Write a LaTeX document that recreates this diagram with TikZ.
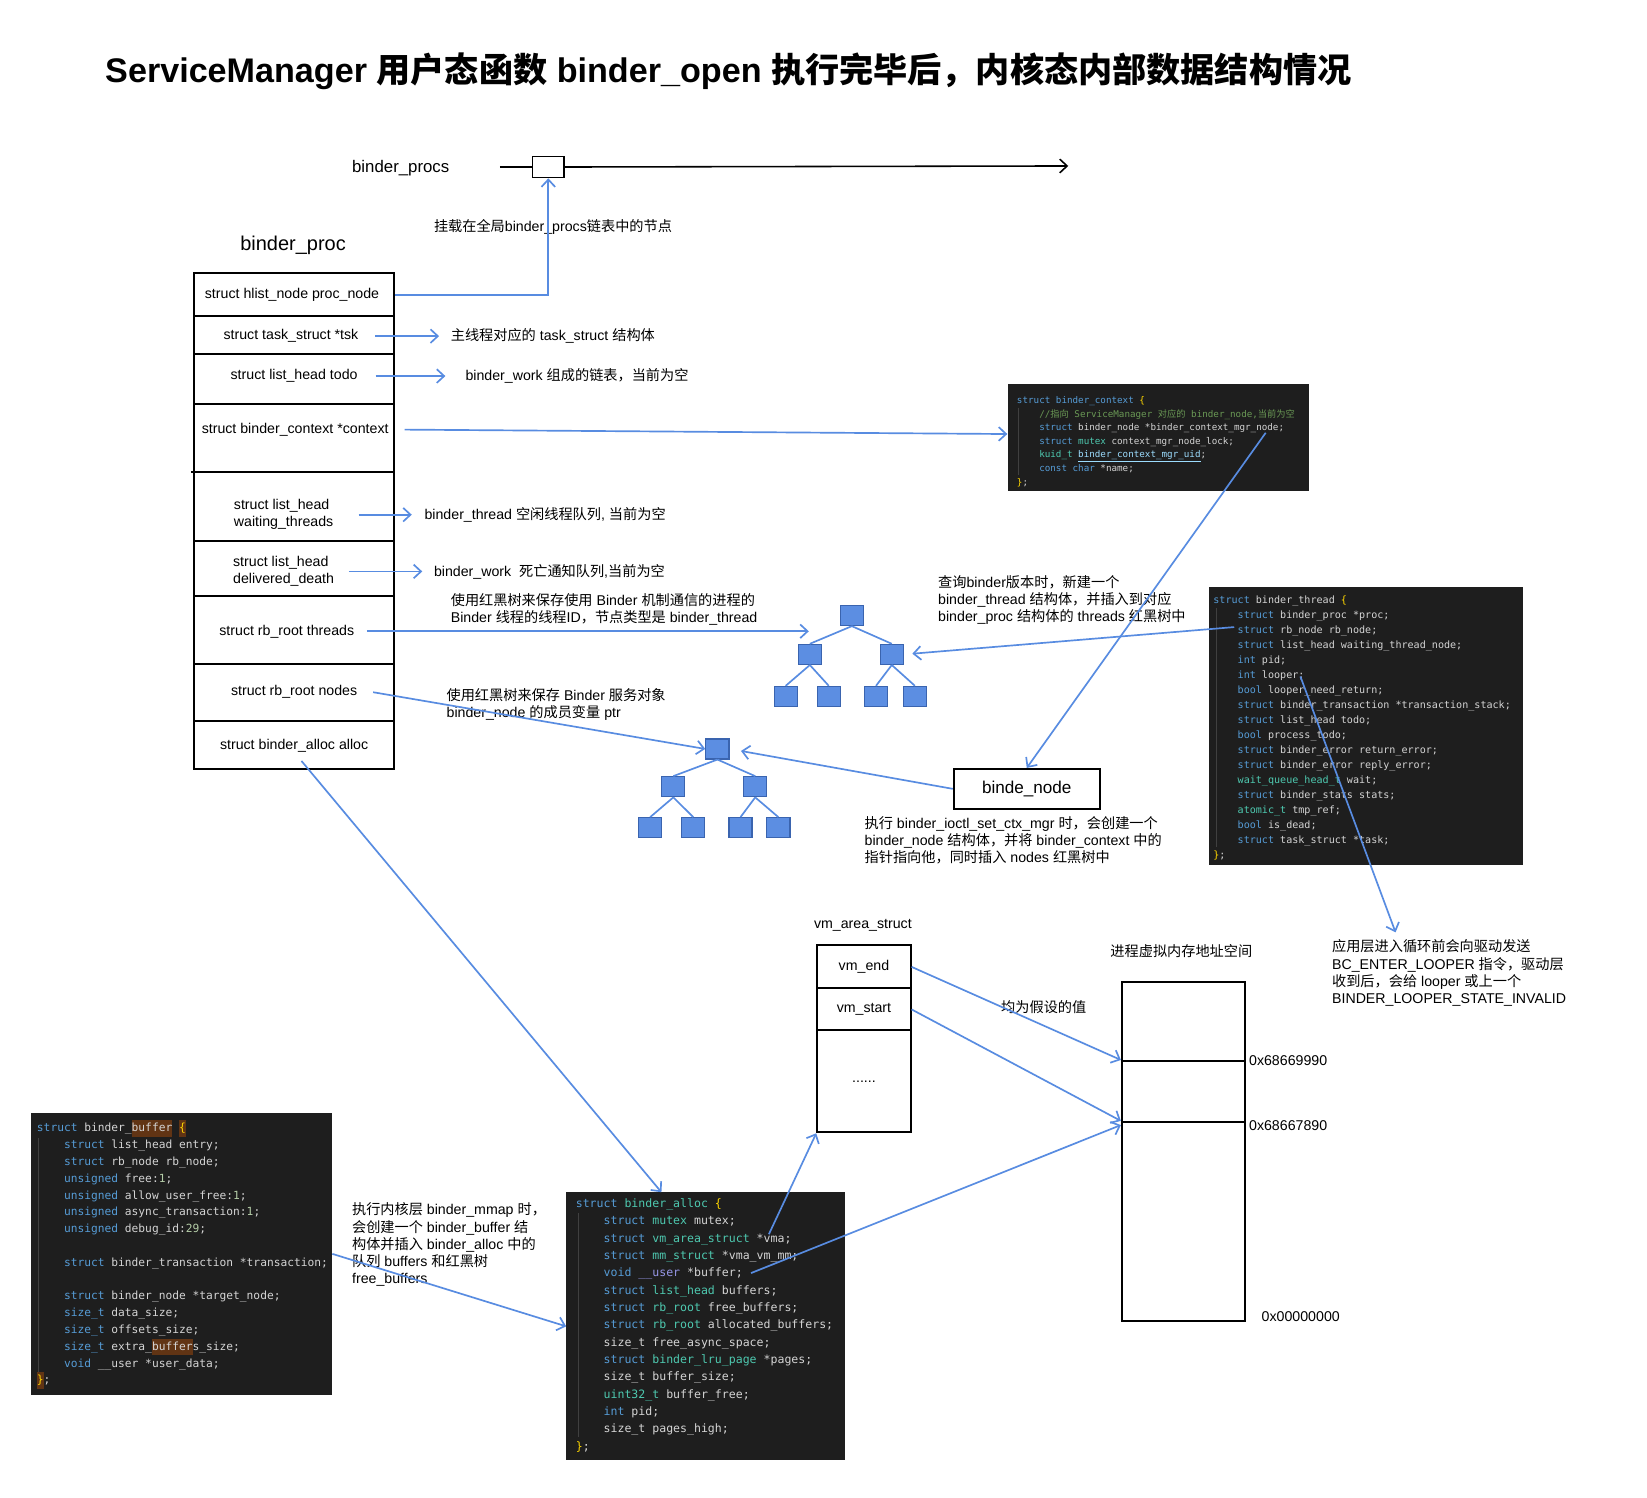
\documentclass[tikz,border=0pt]{standalone}
\usepackage{fontspec}
\setmainfont{Liberation Sans}
\setmonofont{DejaVu Sans Mono}
\newfontfamily\cjkfont{Noto Sans CJK SC}
\usetikzlibrary{arrows.meta}

\definecolor{linkblue}{RGB}{88,140,225}
\definecolor{treefill}{RGB}{92,142,226}
\definecolor{treeedge}{RGB}{58,100,175}
\definecolor{codebg}{RGB}{30,30,30}
\definecolor{codetx}{RGB}{212,212,212}
\definecolor{cdkw}{RGB}{86,156,214}
\definecolor{cdty}{RGB}{78,201,176}
\definecolor{cdbr}{RGB}{255,215,0}
\definecolor{cdcm}{RGB}{106,153,85}
\definecolor{cdnm}{RGB}{181,206,168}
\definecolor{cdvar}{RGB}{156,220,254}
\definecolor{cdhl}{RGB}{97,52,20}
\definecolor{cdpu}{RGB}{150,150,230}
\definecolor{guidegray}{RGB}{64,64,64}

\newcommand\zh[1]{{\cjkfont #1}}
\newcommand\ckw[1]{\textcolor{cdkw}{#1}}
\newcommand\cty[1]{\textcolor{cdty}{#1}}
\newcommand\cbr[1]{\textcolor{cdbr}{#1}}
\newcommand\ccm[1]{\textcolor{cdcm}{#1}}
\newcommand\cnm[1]{\textcolor{cdnm}{#1}}
\newcommand\cind{\phantom{0000}}
\newcommand\chl[1]{{\setlength\fboxsep{0pt}\colorbox{cdhl}{\strut#1}}}

\tikzset{
  lbl/.style={inner sep=0pt, font=\fontsize{13.5}{16.4}\selectfont},
  notetext/.style={lbl, anchor=west, align=left},
  linkarrow/.style={draw=linkblue, line width=1.6pt, -{Straight Barb[length=7pt,width=13pt]}},
  fieldbox/.style={draw, line width=1.8pt, inner sep=0pt, font=\fontsize{13.5}{16.4}\selectfont},
  treenode/.style={draw=treeedge, fill=treefill, line width=1.2pt, minimum width=22pt, minimum height=19pt, inner sep=0pt},
  treeline/.style={draw=linkblue, line width=1.6pt},
  codebox/.style={fill=codebg, anchor=north west, inner sep=0pt},
  % base of a code block = baseline of its last line
  codetext/.style={anchor=base west, align=left, inner sep=0pt, text=codetx},
  guide/.style={draw=guidegray, line width=0.8pt}
}

\begin{document}
\begin{tikzpicture}[x=1pt,y=-1pt]
\useasboundingbox[fill=white] (0,0) rectangle (1568,1425.2);

% Drawing title
\node[anchor=west, inner sep=0pt, font=\bfseries\fontsize{32.5}{38}\selectfont] (title) at (100,68)
  {ServiceManager \zh{用户态函数} binder\_open \zh{执行完毕后，内核态内部数据结构情况}};

% Drawing global list binder_procs
\node[lbl, font=\fontsize{16}{19}\selectfont] (procslbl) at (381.5,160) {binder\_procs};
\node[draw, line width=1.5pt, minimum width=30pt, minimum height=20pt, inner sep=0pt] (procsnode) at (522,159) {};
\coordinate (procsstart) at (476,159);
\coordinate (procsend) at (1017,158);
\draw[line width=1.5pt] (procsstart) -- (procsnode.west);
\draw[line width=1.5pt, -{Straight Barb[length=7pt,width=13pt]}] (procsnode.east) -- (procsend);
\node[notetext] (mountnote) at (413,216) {\zh{挂载在全局}binder\_procs\zh{链表中的节点}};

% Drawing binder_proc
\node[lbl, font=\fontsize{19}{22}\selectfont] (proclbl) at (279,234) {binder\_proc};
\node[draw, line width=1.8pt, minimum width=190pt, minimum height=472pt, inner sep=0pt] (procbox) at (280,496) {};
\foreach \y in {301,337,385,515,567,632,686}
  \draw[line width=1.8pt] (185,\y) -- (375,\y);
\draw[line width=1.8pt] (182,449) -- (375,449);
\node[lbl] (procnode) at (278,281) {struct hlist\_node proc\_node};
\node[lbl] (tsk) at (277,320) {struct task\_struct *tsk};
\node[lbl] (todo) at (280,358) {struct list\_head todo};
\node[lbl] (ctx) at (281,409) {struct binder\_context *context};
\node[lbl, align=left] (waiting) at (270,490) {struct list\_head\\waiting\_threads};
\node[lbl, align=left] (death) at (270,544) {struct list\_head\\delivered\_death};
\node[lbl] (threads) at (273,601) {struct rb\_root threads};
\node[lbl] (nodes) at (280,659) {struct rb\_root nodes};
\node[lbl] (alloc) at (280,710) {struct binder\_alloc alloc};

% Drawing notes of the fields
\node[notetext] (tsknote) at (429,320) {\zh{主线程对应的} task\_struct \zh{结构体}};
\node[notetext] (todonote) at (443,358) {binder\_work \zh{组成的链表，当前为空}};
\node[notetext] (waitnote) at (404,490) {binder\_thread \zh{空闲线程队列}, \zh{当前为空}};
\node[notetext] (deathnote) at (413,544) {binder\_work\ \ \zh{死亡通知队列},\zh{当前为空}};
\node[notetext] (threadsnote) at (429,580) {\zh{使用红黑树来保存使用} Binder \zh{机制通信的进程的}\\Binder \zh{线程的线程}ID\zh{，节点类型是} binder\_thread};
\node[notetext] (nodesnote) at (425,671) {\zh{使用红黑树来保存} Binder \zh{服务对象}\\binder\_node \zh{的成员变量} ptr};
\node[notetext] (newthreadnote) at (893,571) {\zh{查询}binder\zh{版本时，新建一个}\\binder\_thread \zh{结构体，并插入到对应}\\binder\_proc \zh{结构体的} threads \zh{红黑树中}};
\node[notetext] (bnodenote) at (823,800) {\zh{执行} binder\_ioctl\_set\_ctx\_mgr \zh{时，会创建一个}\\binder\_node \zh{结构体，并将} binder\_context \zh{中的}\\\zh{指针指向他，同时插入} nodes \zh{红黑树中}};
\node[notetext] (loopernote) at (1268,926.5) {\zh{应用层进入循环前会向驱动发送}\\BC\_ENTER\_LOOPER \zh{指令，驱动层}\\\zh{收到后，会给} looper \zh{或上一个}\\BINDER\_LOOPER\_STATE\_INVALID};
\node[notetext] (mmapnote) at (335,1185) {\zh{执行内核层} binder\_mmap \zh{时，}\\\zh{会创建一个} binder\_buffer \zh{结}\\\zh{构体并插入} binder\_alloc \zh{中的}\\\zh{队列} buffers \zh{和红黑树}\\free\_buffers};

% Drawing red-black tree of threads
\node[treenode] (t1a) at (811,586) {};
\node[treenode] (t1b) at (771,623) {};
\node[treenode] (t1c) at (849,623) {};
\node[treenode] (t1d) at (748,663) {};
\node[treenode] (t1e) at (789,663) {};
\node[treenode] (t1f) at (834,663) {};
\node[treenode] (t1g) at (871,663) {};
\draw[treeline] (t1a.south) -- (t1b.north);
\draw[treeline] (t1a.south) -- (t1c.north);
\draw[treeline] (t1b.south) -- (t1d.north);
\draw[treeline] (t1b.south) -- (t1e.north);
\draw[treeline] (t1c.south) -- (t1f.north);
\draw[treeline] (t1c.south) -- (t1g.north);
\coordinate (t1entry) at (770,601);

% Drawing red-black tree of nodes
\node[treenode] (t2a) at (683,713) {};
\node[treenode] (t2b) at (641,749) {};
\node[treenode] (t2c) at (719,749) {};
\node[treenode] (t2d) at (619,788) {};
\node[treenode] (t2e) at (660,788) {};
\node[treenode] (t2f) at (705,788) {};
\node[treenode] (t2g) at (741,788) {};
\draw[treeline] (t2a.south) -- (t2b.north);
\draw[treeline] (t2a.south) -- (t2c.north);
\draw[treeline] (t2b.south) -- (t2d.north);
\draw[treeline] (t2b.south) -- (t2e.north);
\draw[treeline] (t2c.south) -- (t2f.north);
\draw[treeline] (t2c.south) -- (t2g.north);

% Drawing binder_node
\node[fieldbox, minimum width=139pt, minimum height=38pt, font=\fontsize{16.3}{19}\selectfont] (bnode) at (977.5,751) {binde\_node};

% Drawing struct binder_context
\node[codebox, minimum width=287pt, minimum height=102pt] (ctxbox) at (959,365) {};
\draw[guide] (970,388) -- (970,452);
\node[codetext, font=\ttfamily\fontsize{8.8}{13}\selectfont] (ctxcode) at (968,462) {%
\ckw{struct} \ckw{binder\_context} \cbr{\{}\\
\cind\ccm{//\zh{指向} ServiceManager \zh{对应的} binder\_node,\zh{当前为空}}\\
\cind\ckw{struct} binder\_node *binder\_context\_mgr\_node;\\
\cind\ckw{struct} \cty{mutex} context\_mgr\_node\_lock;\\
\cind\cty{kuid\_t} \textcolor{cdvar}{\underline{binder\_context\_mgr\_uid}};\\
\cind\ckw{const} \ckw{char} *name;\\
\cbr{\}};};
\coordinate (ctxmgr) at (1205,412);

% Drawing struct binder_thread
\node[codebox, minimum width=299pt, minimum height=264pt] (threadbox) at (1151,559) {};
\draw[guide] (1158,579) -- (1158,806);
\node[codetext, font=\ttfamily\fontsize{9.6}{14.3}\selectfont] (threadcode) at (1155,817.2) {%
\ckw{struct} binder\_thread \cbr{\{}\\
\cind\ckw{struct} binder\_proc *proc;\\
\cind\ckw{struct} rb\_node rb\_node;\\
\cind\ckw{struct} list\_head waiting\_thread\_node;\\
\cind\ckw{int} pid;\\
\cind\ckw{int} looper;\\
\cind\ckw{bool} looper\_need\_return;\\
\cind\ckw{struct} binder\_transaction *transaction\_stack;\\
\cind\ckw{struct} list\_head todo;\\
\cind\ckw{bool} process\_todo;\\
\cind\ckw{struct} binder\_error return\_error;\\
\cind\ckw{struct} binder\_error reply\_error;\\
\cind\cty{wait\_queue\_head\_t} wait;\\
\cind\ckw{struct} binder\_stats stats;\\
\cind\cty{atomic\_t} tmp\_ref;\\
\cind\ckw{bool} is\_dead;\\
\cind\ckw{struct} task\_struct *task;\\
\cbr{\}};};
\coordinate (rbnode) at (1175,597);
\coordinate (looper) at (1238,644);

% Drawing vm_area_struct
\node[lbl] (vmlbl) at (821.5,881) {vm\_area\_struct};
\node[fieldbox, minimum width=89pt, minimum height=41pt] (vmend) at (822.5,920.5) {vm\_end};
\node[fieldbox, minimum width=89pt, minimum height=40pt] (vmstart) at (822.5,961) {vm\_start};
\node[fieldbox, minimum width=89pt, minimum height=97pt] (vmrest) at (822.5,1029.5) {......};
\node[notetext] (assumed) at (953,959) {\zh{均为假设的值}};

% Drawing process address space
\node[notetext] (vaspace) at (1057,905) {\zh{进程虚拟内存地址空间}};
\node[fieldbox, minimum width=117pt, minimum height=75pt] (addrtop) at (1126.5,972.5) {};
\node[fieldbox, minimum width=117pt, minimum height=58pt] (addrmid) at (1126.5,1039) {};
\node[fieldbox, minimum width=117pt, minimum height=190pt] (addrlow) at (1126.5,1163) {};
\node[notetext] (addr1) at (1189,1010) {0x68669990};
\node[notetext] (addr2) at (1189,1072) {0x68667890};
\node[notetext] (addr0) at (1201,1253) {0x00000000};

% Drawing struct binder_buffer
\node[codebox, minimum width=287pt, minimum height=269pt] (bufbox) at (29,1059) {};
\draw[guide] (37,1083) -- (37,1306);
\node[codetext, font=\ttfamily\fontsize{10.7}{16}\selectfont] (bufcode) at (35,1317.5) {%
\ckw{struct} binder\_\chl{buffer} \chl{\cbr{\{}}\\
\cind\ckw{struct} list\_head entry;\\
\cind\ckw{struct} rb\_node rb\_node;\\
\cind\ckw{unsigned} free:\cnm{1};\\
\cind\ckw{unsigned} allow\_user\_free:\cnm{1};\\
\cind\ckw{unsigned} async\_transaction:\cnm{1};\\
\cind\ckw{unsigned} debug\_id:\cnm{29};\\
\mbox{}\\
\cind\ckw{struct} binder\_transaction *transaction;\\
\mbox{}\\
\cind\ckw{struct} binder\_node *target\_node;\\
\cind\ckw{size\_t} data\_size;\\
\cind\ckw{size\_t} offsets\_size;\\
\cind\ckw{size\_t} extra\_\chl{buffer}s\_size;\\
\cind\ckw{void} \_\_user *user\_data;\\
\chl{\cbr{\}}};};

% Drawing struct binder_alloc
\node[codebox, minimum width=265pt, minimum height=255pt] (allocbox) at (539,1135) {};
\draw[guide] (551,1155) -- (551,1368);
\node[codetext, font=\ttfamily\fontsize{11}{16.5}\selectfont] (alloccode) at (548,1380.6) {%
\ckw{struct} \cty{binder\_alloc} \cbr{\{}\\
\cind\ckw{struct} \cty{mutex} mutex;\\
\cind\ckw{struct} \cty{vm\_area\_struct} *vma;\\
\cind\ckw{struct} \cty{mm\_struct} *vma\_vm\_mm;\\
\cind\ckw{void} \textcolor{cdpu}{\_\_user} *buffer;\\
\cind\ckw{struct} \cty{list\_head} buffers;\\
\cind\ckw{struct} \cty{rb\_root} free\_buffers;\\
\cind\ckw{struct} \cty{rb\_root} allocated\_buffers;\\
\cind size\_t free\_async\_space;\\
\cind\ckw{struct} \cty{binder\_lru\_page} *pages;\\
\cind size\_t buffer\_size;\\
\cind\cty{uint32\_t} buffer\_free;\\
\cind\ckw{int} pid;\\
\cind size\_t pages\_high;\\
\cbr{\}};};
\coordinate (allocvma) at (732,1175);
\coordinate (allocbuf) at (715,1212);

% Drawing connectors
\draw[linkarrow] (procnode.east -| procbox.east) -| (procsnode.south);
\draw[linkarrow] ([xshift=16pt]tsk.east) -- ([xshift=-11pt]tsknote.west);
\draw[linkarrow] ([xshift=17pt]todo.east) -- ([xshift=-19pt]todonote.west);
\draw[linkarrow] ([xshift=15pt]ctx.east) -- ([yshift=3pt]ctxbox.west);
\draw[linkarrow] ([xshift=24pt]waiting.east) -- ([xshift=-12pt]waitnote.west);
\draw[linkarrow] ([xshift=14pt]death.east) -- ([xshift=-11pt]deathnote.west);
\draw[linkarrow] ([xshift=12pt]threads.east) -- (t1entry);
\draw[linkarrow] ([xshift=15pt]nodes.east) -- (t2a.west);
\draw[linkarrow] ([xshift=7pt,yshift=-8pt]alloc.south) -- ([xshift=-42pt]allocbox.north);
\draw[linkarrow] (ctxmgr) -- (bnode.north);
\draw[linkarrow, shorten >=11pt] (bnode.west) -- (t2a.east);
\draw[linkarrow, shorten >=8pt] (rbnode) -- (t1c.east);
\draw[linkarrow] (looper) -- ([xshift=-51pt,yshift=7pt]loopernote.north);
\draw[linkarrow] (vmend.east) -- (addrmid.north west);
\draw[linkarrow] (vmstart.east) -- (addrlow.north west);
\draw[linkarrow] (allocbuf) -- ([yshift=-4pt]addrlow.north west);
\draw[linkarrow] (allocvma) -- (vmrest.south west);
\draw[linkarrow] (bufbox.east) -- (allocbox.west);
\end{tikzpicture}
\end{document}
